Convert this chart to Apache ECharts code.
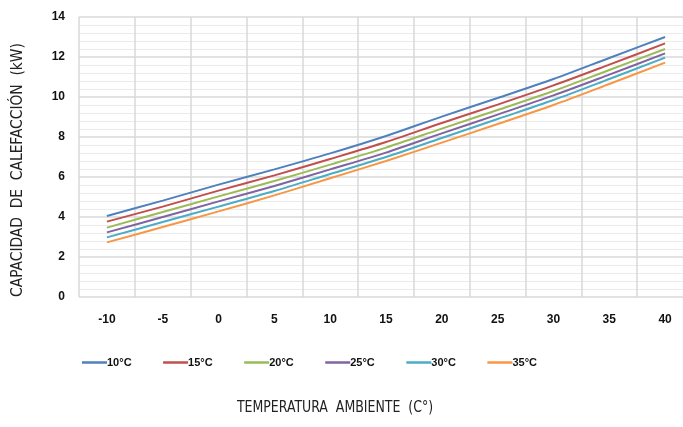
<!DOCTYPE html>
<html><head><meta charset="utf-8">
<script src="https://cdn.jsdelivr.net/npm/echarts@6/dist/echarts.min.js"></script>
<style>html,body{margin:0;padding:0;background:#fff;overflow:hidden;width:683px;height:427px}#c{width:693px;height:427px}</style>
</head><body><div id="c"></div>
<script>
const temps = [-10, -5, 0, 5, 10, 15, 20, 25, 30, 35, 40];
const xLabels = ['-10','-5','0','5','10','15','20','25','30','35','40'];
const seriesNames = ['10°C','15°C','20°C','25°C','30°C','35°C'];
const s10 = [4.05, 4.82, 5.62, 6.38, 7.18, 8.05, 9.02, 9.95, 10.90, 11.95, 13.00];
const s15 = [3.77, 4.52, 5.32, 6.08, 6.90, 7.75, 8.70, 9.62, 10.58, 11.62, 12.68];
const s20 = [3.47, 4.25, 5.03, 5.80, 6.62, 7.47, 8.42, 9.35, 10.30, 11.35, 12.40];
const s25 = [3.23, 4.00, 4.78, 5.55, 6.38, 7.22, 8.18, 9.12, 10.08, 11.12, 12.18];
const s30 = [2.98, 3.75, 4.52, 5.30, 6.15, 7.00, 7.95, 8.90, 9.85, 10.90, 11.97];
const s35 = [2.73, 3.50, 4.28, 5.08, 5.94, 6.80, 7.72, 8.65, 9.60, 10.65, 11.72];
const yTicks = [0, 2, 4, 6, 8, 10, 12, 14];

const colors = ['#4F81BD','#C0504D','#9BBB59','#8064A2','#4BACC6','#F79646'];
const allSeries = [s10, s15, s20, s25, s30, s35];
const labelFont = {color:'#111', fontWeight:'bold', fontSize:12, fontFamily:'Liberation Sans, Arial, sans-serif'};
const titleFont = '"Liberation Sans Narrow","DejaVu Sans Condensed","Roboto",sans-serif';

const chart = echarts.init(document.getElementById('c'));
chart.setOption({
  animation:false,
  color: colors,
  grid:{left:79, top:17, right:0, bottom:130, containLabel:false},
  legend:{
    data: seriesNames, left:77, top:352, itemWidth:25, itemHeight:2.5, itemGap:31.5, icon:'rect',
    textStyle:Object.assign({}, labelFont, {fontSize:11, padding:[0,0,0,-5]})
  },
  xAxis:[
    {type:'value', min:-12.5, max:42.5, show:false},
    {type:'category', data:xLabels, boundaryGap:true, position:'bottom',
     axisLine:{show:false}, axisTick:{show:false},
     axisLabel:Object.assign({interval:0, margin:17}, labelFont),
     splitLine:{show:true, interval:0, lineStyle:{color:'#d9d9d9', width:1.5}}}
  ],
  yAxis:{type:'value', min:yTicks[0], max:yTicks[yTicks.length-1], interval:2,
    axisLine:{show:false}, axisTick:{show:false},
    axisLabel:Object.assign({margin:14}, labelFont),
    splitLine:{show:true, lineStyle:{color:'#d9d9d9', width:1.5}},
    minorTick:{show:false, splitNumber:5},
    minorSplitLine:{show:true, lineStyle:{color:'#ececec', width:1}}
  },
  graphic:[
    {type:'text', x:335, y:408, scaleX:0.87, style:{text:'TEMPERATURA  AMBIENTE  (C°)', fill:'#222', font:'16px '+titleFont, align:'center', verticalAlign:'middle'}},
    {type:'text', x:18, y:170, rotation:Math.PI/2, scaleX:0.96, style:{text:'CAPACIDAD  DE  CALEFACCIÓN  (kW)', fill:'#222', font:'16px '+titleFont, align:'center', verticalAlign:'middle'}}
  ],
  series: allSeries.map((arr,i)=>({
    name: seriesNames[i], type:'line', xAxisIndex:0, symbol:'none', smooth:0.3,
    lineStyle:{width:2, color:colors[i]},
    data: temps.map((t,j)=>[t, arr[j]])
  }))
});
</script></body></html>
